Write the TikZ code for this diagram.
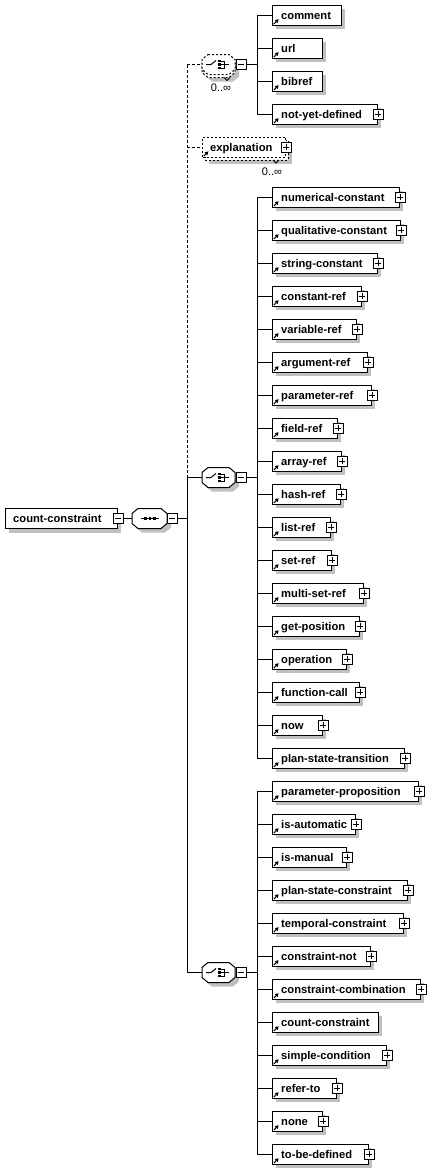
\documentclass[tikz,border=0pt]{standalone}
\usepackage{fontspec}
\setmainfont{Liberation Sans}
\usetikzlibrary{arrows.meta,calc}
\definecolor{shadowc}{RGB}{192,192,192}
\tikzset{
  ebox/.style={draw, fill=white, line width=1pt, inner sep=0pt, minimum height=20pt},
  etext/.style={inner sep=0pt, font=\bfseries\fontsize{11.2}{13}\selectfont},
  occ/.style={inner sep=0pt, font=\fontsize{11}{13}\selectfont},
  refarrow/.style={line width=1.1pt, -{Triangle[length=3.4pt,width=3.8pt]}},
  conn/.style={line width=1pt},
  dashes/.style={dash pattern=on 2pt off 2pt},
  trunkdash/.style={dash pattern=on 3pt off 2pt},
  compnode/.style={inner sep=0pt, minimum width=33pt, minimum height=20pt},
  plusbox/.style={draw, fill=white, line width=1pt, minimum size=10pt, inner sep=0pt,
    path picture={
      \draw[line width=1pt] ([xshift=-3pt]path picture bounding box.center) -- ([xshift=3pt]path picture bounding box.center);
      \draw[line width=1pt] ([yshift=-3pt]path picture bounding box.center) -- ([yshift=3pt]path picture bounding box.center);}},
  minusbox/.style={draw, fill=white, line width=1pt, minimum size=10pt, inner sep=0pt,
    path picture={
      \draw[line width=1pt] ([xshift=-3pt]path picture bounding box.center) -- ([xshift=3pt]path picture bounding box.center);}}
}
% octagon: options, x0, x1, yc
\newcommand{\octshape}[4]{\path[#1] (#2+6,#4-10) -- (#3-6,#4-10) -- (#3,#4-5) -- (#3,#4+5) -- (#3-6,#4+10) -- (#2+6,#4+10) -- (#2,#4+5) -- (#2,#4-5) -- cycle;}
\newcommand{\sqdot}[2]{\fill (#1-1.25,#2-1.25) rectangle (#1+1.25,#2+1.25);}
\newcommand{\choicesym}[2]{%
  \draw[line width=1pt] (#1+4,#2) -- (#1+9,#2) -- (#1+14,#2-4);
  \sqdot{#1+17.5}{#2-3.5}\sqdot{#1+17.5}{#2}\sqdot{#1+17.5}{#2+3.5}
  \draw[line width=1pt] (#1+19,#2-3.5) -- (#1+22,#2-3.5) -- (#1+22,#2+3.5) -- (#1+19,#2+3.5);
  \draw[line width=1pt] (#1+19,#2) -- (#1+27,#2);}
% element: name, y, right x, text, plus(1/0), branch coordinate
\newcommand{\xel}[6]{%
  \fill[shadowc] (276,#2-6) rectangle (#3+4,#2+14);
  \node[ebox, minimum width={#3-272}, anchor=west] (#1) at (272,#2) {};
  \node[etext, anchor=base west] (#1t) at (281,#2+4) {#4};
  \draw[refarrow] (273.8,#2+9) -- (278.6,#2+4.2);
  \ifnum#5=1 \node[plusbox] (#1p) at (#1.east) {};\fi
  \draw[conn] (#1.west -| #6) -- (#1.west);}
\begin{document}
\begin{tikzpicture}[x=1pt,y=-1pt]
\fill[white] (0,0) rectangle (441,1170);
\useasboundingbox (0,0) rectangle (441,1170);

% root element
\fill[shadowc] (9,512.5) rectangle (121,532.5);
\node[ebox, minimum width=112, anchor=west] (root) at (5,518.5) {};
\node[etext, anchor=base west] (roott) at (13,522.5) {count-constraint};
\node[minusbox] (rootm) at (root.east) {};

% sequence
\octshape{fill=shadowc}{136}{171}{522.5}
\octshape{draw, fill=white, line width=1pt}{132}{167}{518.5}
\node[compnode, minimum width=35pt] (seq) at (149.5,518.5) {};
\draw[line width=1pt] (141,518.5) -- (159,518.5);
\sqdot{145.5}{518.5}\sqdot{150}{518.5}\sqdot{154.5}{518.5}
\node[minusbox] (seqm) at (172,518.5) {};
\draw[conn] (rootm.east) -- (seq.west);

% trunk
\coordinate (trunk) at (187,518.5);
\draw[conn] (seqm.east) -- (seqm.east -| trunk);

% choice 1 (optional, repeated)
\octshape{fill=shadowc}{206}{239}{71.5}
\octshape{draw, fill=white, line width=1pt, dashes}{202}{235}{67.5}
\octshape{draw, fill=white, line width=1pt, dashes}{202}{235}{64.5}
\node[compnode] (c1) at (218.5,64.5) {};
\choicesym{202}{64.5}
\node[minusbox] (c1m) at (241,64.5) {};
\draw[line width=1pt] (224,77.5) -- (227,80.5) -- (230,77.5);
\node[occ] (c1o) at (221,87.5) {0..∞};

% explanation (optional, repeated)
\fill[shadowc] (209,144) rectangle (292,164);
\draw[fill=white, line width=1pt, dashes] (205,140) rectangle (288,160);
\node[ebox, dashes, minimum width=83, anchor=west] (expl) at (202,147) {};
\node[etext, anchor=base west] (explt) at (210,151) {explanation};
\draw[refarrow] (203.8,156) -- (208.4,151.4);
\node[plusbox] (explp) at (expl.east) {};
\draw[line width=1pt] (273,160) -- (276,163) -- (279,160);
\node[occ] (explo) at (272,171.5) {0..∞};

% choice 2
\octshape{fill=shadowc}{206}{239}{481.5}
\octshape{draw, fill=white, line width=1pt}{202}{235}{477.5}
\node[compnode] (c2) at (218.5,477.5) {};
\choicesym{202}{477.5}
\node[minusbox] (c2m) at (241,477.5) {};

% choice 3
\octshape{fill=shadowc}{206}{239}{976.5}
\octshape{draw, fill=white, line width=1pt}{202}{235}{972.5}
\node[compnode] (c3) at (218.5,972.5) {};
\choicesym{202}{972.5}
\node[minusbox] (c3m) at (241,972.5) {};

% trunk lines
\draw[conn, trunkdash] (c1.west -| trunk) -- (c2.west -| trunk);
\draw[conn] (c2.west -| trunk) -- (c3.west -| trunk);
\draw[conn, trunkdash] (c1.west -| trunk) -- (c1.west);
\draw[conn, trunkdash] (expl.west -| trunk) -- (expl.west);
\draw[conn] (c2.west -| trunk) -- (c2.west);
\draw[conn] (c3.west -| trunk) -- (c3.west);

% branches
\coordinate (br1) at (257,64.5);
\coordinate (br2) at (257,477.5);
\coordinate (br3) at (257,972.5);
\draw[conn] (c1m.east) -- (br1);
\draw[conn] (c2m.east) -- (br2);
\draw[conn] (c3m.east) -- (br3);

% group 1
\xel{e01}{15}{341}{comment}{0}{br1}
\xel{e02}{48}{322}{url}{0}{br1}
\xel{e03}{81}{322}{bibref}{0}{br1}
\xel{e04}{114}{377}{not-yet-defined}{1}{br1}
\draw[conn] (e01.west -| br1) -- (e04.west -| br1);

% group 2
\xel{e05}{197}{399}{numerical-constant}{1}{br2}
\xel{e06}{230}{400}{qualitative-constant}{1}{br2}
\xel{e07}{263}{377}{string-constant}{1}{br2}
\xel{e08}{296}{361}{constant-ref}{1}{br2}
\xel{e09}{329}{356}{variable-ref}{1}{br2}
\xel{e10}{362}{367}{argument-ref}{1}{br2}
\xel{e11}{395}{371}{parameter-ref}{1}{br2}
\xel{e12}{428}{337}{field-ref}{1}{br2}
\xel{e13}{461}{341}{array-ref}{1}{br2}
\xel{e14}{494}{340}{hash-ref}{1}{br2}
\xel{e15}{527}{330}{list-ref}{1}{br2}
\xel{e16}{560}{331}{set-ref}{1}{br2}
\xel{e17}{593}{363}{multi-set-ref}{1}{br2}
\xel{e18}{626}{359}{get-position}{1}{br2}
\xel{e19}{659}{346}{operation}{1}{br2}
\xel{e20}{692}{359}{function-call}{1}{br2}
\xel{e21}{725}{322}{now}{1}{br2}
\xel{e22}{758}{404}{plan-state-transition}{1}{br2}
\draw[conn] (e05.west -| br2) -- (e22.west -| br2);

% group 3
\xel{e23}{791}{418}{parameter-proposition}{1}{br3}
\xel{e24}{824}{355}{is-automatic}{1}{br3}
\xel{e25}{857}{346}{is-manual}{1}{br3}
\xel{e26}{890}{407}{plan-state-constraint}{1}{br3}
\xel{e27}{923}{403}{temporal-constraint}{1}{br3}
\xel{e28}{956}{370}{constraint-not}{1}{br3}
\xel{e29}{989}{420}{constraint-combination}{1}{br3}
\xel{e30}{1022}{378}{count-constraint}{0}{br3}
\xel{e31}{1055}{386}{simple-condition}{1}{br3}
\xel{e32}{1088}{336}{refer-to}{1}{br3}
\xel{e33}{1121}{322}{none}{1}{br3}
\xel{e34}{1154}{368}{to-be-defined}{1}{br3}
\draw[conn] (e23.west -| br3) -- (e34.west -| br3);
\end{tikzpicture}
\end{document}
